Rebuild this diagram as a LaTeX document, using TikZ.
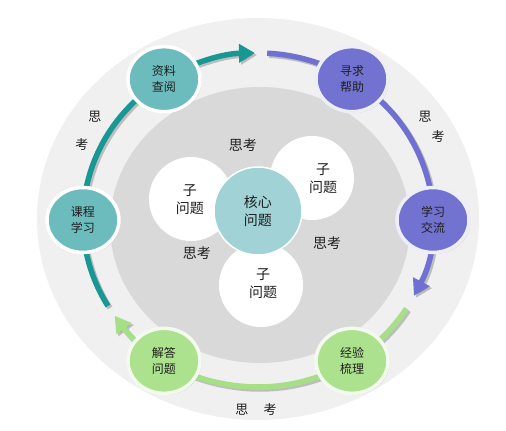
\documentclass[tikz,border=0pt]{standalone}
\usepackage{fontspec}
\newfontfamily\cjk{Noto Sans CJK SC}
\usetikzlibrary{arrows.meta,shapes.geometric,shadows}
\definecolor{tealnode}{RGB}{108,188,190}
\definecolor{tealarc}{RGB}{24,152,148}
\definecolor{corefill}{RGB}{160,210,214}
\definecolor{purplenode}{RGB}{114,114,208}
\definecolor{purplearc}{RGB}{112,112,210}
\definecolor{greennode}{RGB}{172,226,142}
\definecolor{greenarc}{RGB}{166,224,134}
\definecolor{outerdisc}{RGB}{240,240,240}
\definecolor{innerdisc}{RGB}{217,217,217}
\definecolor{inktext}{RGB}{30,30,30}

\begin{document}
\begin{tikzpicture}[x=1pt,y=1pt,
  stage/.style={ellipse,draw=white,line width=3.5pt,minimum width=72pt,
    minimum height=65pt,inner sep=0pt,align=center,text=inktext,
    font=\cjk\fontsize{12}{16}\selectfont,
    drop shadow={shadow xshift=1.5pt,shadow yshift=-1.5pt,opacity=.25}},
  sub/.style={circle,fill=white,minimum size=84pt,inner sep=0pt},
  word/.style={align=center,text=inktext,font=\cjk\fontsize{14}{18}\selectfont},
  think/.style={text=inktext,font=\cjk\fontsize{13}{16}\selectfont},
  ring/.style={line width=5.5pt},
  shade/.style={ring,black!45,opacity=.5,transform canvas={xshift=2pt,yshift=-2pt}},
  tip/.style={-{Triangle[width=18pt,length=16pt]}}]
  \useasboundingbox (-258,-211) rectangle (248,220);
  % discs
  \fill[outerdisc] (0,1) ellipse [x radius=221,y radius=201];
  \fill[innerdisc] (2,-5) ellipse [x radius=150,y radius=138];
  % sub questions around the core
  \draw (-67,21) node[sub] (subL) {};
  \draw (54,42) node[sub] (subR) {};
  \draw (3,-65) node[sub] (subB) {};
  \draw (-68,20) node[word] (subLtext) {子\\问题};
  \draw (65,41) node[word] (subRtext) {子\\问题};
  \draw (5,-64) node[word] (subBtext) {子\\问题};
  \draw (0,9) node[circle,fill=corefill,draw=white,line width=1.5pt,
    minimum size=88pt,word] (core) {核心\\问题};
  \draw (-15,75) node[word] (thinkT) {思考};
  \draw (-61,-33) node[word] (thinkL) {思考};
  \draw (69,-23) node[word] (thinkR) {思考};
  % ends of the ring segments
  \coordinate (tealA) at (211:175 and 167);
  \coordinate (purpA) at (87:175 and 167);
  \coordinate (greenA) at (-32:175 and 167);
  % ring segments, shadow first
  \draw[shade,tip] (tealA) arc[start angle=211,end angle=91,x radius=175,y radius=167];
  \draw[shade,tip] (purpA) arc[start angle=87,end angle=-27,x radius=175,y radius=167];
  \draw[shade,tip] (greenA) arc[start angle=-32,end angle=-145,x radius=175,y radius=167];
  \draw[ring,tealarc,tip] (tealA) arc[start angle=211,end angle=91,x radius=175,y radius=167];
  \draw[ring,purplearc,tip] (purpA) arc[start angle=87,end angle=-27,x radius=175,y radius=167];
  \draw[ring,greenarc,tip] (greenA) arc[start angle=-32,end angle=-145,x radius=175,y radius=167];
  % stages
  \draw (180:175 and 167) node[stage,fill=tealnode] (course) {课程\\学习};
  \draw (122.5:175 and 167) node[stage,fill=tealnode] (res) {资料\\查阅};
  \draw (57.5:175 and 167) node[stage,fill=purplenode,draw=purplenode!12!white] (seek) {寻求\\帮助};
  \draw (0:175 and 167) node[stage,fill=purplenode,draw=purplenode!12!white] (talk) {学习\\交流};
  \draw (-57.5:175 and 167) node[stage,fill=greennode,draw=greennode!15!white] (sum) {经验\\梳理};
  \draw (-122.5:175 and 167) node[stage,fill=greennode,draw=greennode!15!white] (ans) {解答\\问题};
  % thinking along the ring
  \draw (-163,103) node[think] (lsi) {思};
  \draw (-176,75) node[think] (lkao) {考};
  \draw (167,103) node[think] (rsi) {思};
  \draw (180,83) node[think] (rkao) {考};
  \draw (-16,-190) node[think] (bsi) {思};
  \draw (12,-190) node[think] (bkao) {考};
\end{tikzpicture}
\end{document}
